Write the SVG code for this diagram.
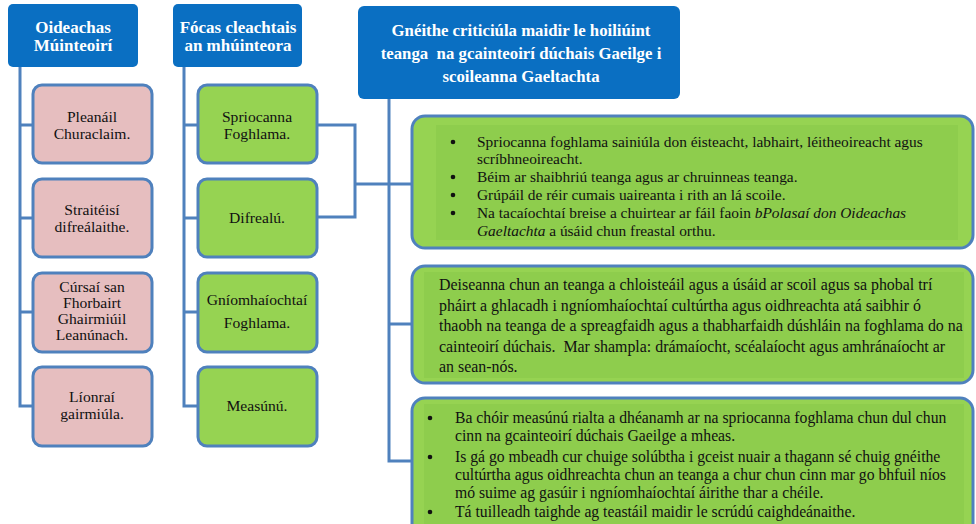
<svg xmlns="http://www.w3.org/2000/svg" width="976" height="524" viewBox="0 0 976 524">
<style>
.hdr{fill:#0A6FC2;}
.ht{font-family:'Liberation Serif','Times New Roman','DejaVu Serif',serif;font-weight:bold;fill:#fff;text-anchor:middle;}
.pink{fill:#E6BEBF;stroke:#4F81BD;stroke-width:3;}
.grn{fill:#96D352;stroke:#4F81BD;stroke-width:3;}
.big{fill:#96D352;stroke:#4F81BD;stroke-width:3;}
.inner{fill:#8ECD4D;}
.bt{font-family:'Liberation Serif','Times New Roman','DejaVu Serif',serif;font-size:15.6px;fill:#111;text-anchor:middle;}
.rt{font-family:'Liberation Serif','Times New Roman','DejaVu Serif',serif;fill:#111;}
.con{fill:none;stroke:#4F81BD;stroke-width:3;}
</style>
<rect width="976" height="524" fill="#fff"/>
<g id="connectors">
<path class="con" d="M20 67 V406 H33 M20 125 H33 M20 218 H33 M20 312 H33"/>
<path class="con" d="M184 67 V406 H197 M184 125 H197 M184 218 H197 M184 312 H197"/>
<path class="con" d="M317 125 H355 V217 H317 M355 184 H412"/>
<path class="con" d="M389 99 V461 H412 M389 324 H412"/>
</g>
<g id="hdr1">
<rect class="hdr" x="8" y="4" width="130" height="63" rx="5"/>
<text class="ht" x="73" y="33" font-size="17">Oideachas</text>
<text class="ht" x="73" y="51" font-size="17">Múinteoirí</text>
</g>
<g id="hdr2">
<rect class="hdr" x="173" y="4" width="129" height="63" rx="5"/>
<text class="ht" x="238" y="33" font-size="17">Fócas cleachtais</text>
<text class="ht" x="238" y="51" font-size="17">an mhúinteora</text>
</g>
<g id="hdr3">
<rect class="hdr" x="358" y="6" width="322" height="93" rx="6"/>
<text class="ht" x="521" y="36" font-size="16.8">Gnéithe criticiúla maidir le hoiliúint</text>
<text class="ht" x="521" y="59" font-size="16.8" xml:space="preserve">teanga  na gcainteoirí dúchais Gaeilge i</text>
<text class="ht" x="521" y="82" font-size="16.8">scoileanna Gaeltachta</text>
</g>
<g id="p1">
<rect class="pink" x="33" y="85" width="119" height="78" rx="9"/>
<text class="bt" x="92" y="122">Pleanáil</text>
<text class="bt" x="92" y="139">Churaclaim.</text>
</g>
<g id="p2">
<rect class="pink" x="33" y="179" width="119" height="78" rx="9"/>
<text class="bt" x="92" y="215">Straitéisí</text>
<text class="bt" x="92" y="232">difreálaithe.</text>
</g>
<g id="p3">
<rect class="pink" x="33" y="273" width="119" height="79" rx="9"/>
<text class="bt" x="92" y="292">Cúrsaí san</text>
<text class="bt" x="92" y="308">Fhorbairt</text>
<text class="bt" x="92" y="324">Ghairmiúil</text>
<text class="bt" x="92" y="340">Leanúnach.</text>
</g>
<g id="p4">
<rect class="pink" x="33" y="367" width="119" height="79" rx="9"/>
<text class="bt" x="92" y="402">Líonraí</text>
<text class="bt" x="92" y="419">gairmiúla.</text>
</g>
<g id="g1">
<rect class="grn" x="198" y="85" width="119" height="78" rx="9"/>
<text class="bt" x="257" y="122">Spriocanna</text>
<text class="bt" x="257" y="139">Foghlama.</text>
</g>
<g id="g2">
<rect class="grn" x="198" y="179" width="119" height="78" rx="9"/>
<text class="bt" x="257" y="223">Difrealú.</text>
</g>
<g id="g3">
<rect class="grn" x="198" y="273" width="119" height="79" rx="9"/>
<text class="bt" x="257" y="305">Gníomhaíochtaí</text>
<text class="bt" x="257" y="328">Foghlama.</text>
</g>
<g id="g4">
<rect class="grn" x="198" y="367" width="119" height="79" rx="9"/>
<text class="bt" x="257" y="411">Measúnú.</text>
</g>
<g id="r1">
<rect class="big" x="412" y="116" width="561" height="132" rx="13"/>
<rect class="inner" x="436" y="125" width="522" height="115"/>
<g class="rt" font-size="15.4">
<circle cx="453" cy="142" r="2.3" fill="#111"/>
<circle cx="453" cy="177" r="2.3" fill="#111"/>
<circle cx="453" cy="195" r="2.3" fill="#111"/>
<circle cx="453" cy="213" r="2.3" fill="#111"/>
<text x="477" y="147">Spriocanna foghlama sainiúla don éisteacht, labhairt, léitheoireacht agus</text>
<text x="477" y="164">scríbhneoireacht.</text>
<text x="477" y="182">Béim ar shaibhriú teanga agus ar chruinneas teanga.</text>
<text x="477" y="200">Grúpáil de réir cumais uaireanta i rith an lá scoile.</text>
<text x="477" y="218">Na tacaíochtaí breise a chuirtear ar fáil faoin <tspan font-style="italic">bPolasaí don Oideachas</tspan></text>
<text x="477" y="236"><tspan font-style="italic">Gaeltachta</tspan> a úsáid chun freastal orthu.</text>
</g>
</g>
<g id="r2">
<rect class="big" x="412" y="266" width="561" height="117" rx="13"/>
<rect class="inner" x="424" y="272" width="540" height="106"/>
<g class="rt" font-size="15.9">
<text x="439" y="290">Deiseanna chun an teanga a chloisteáil agus a úsáid ar scoil agus sa phobal trí</text>
<text x="439" y="311">pháirt a ghlacadh i ngníomhaíochtaí cultúrtha agus oidhreachta atá saibhir ó</text>
<text x="439" y="331">thaobh na teanga de a spreagfaidh agus a thabharfaidh dúshláin na foghlama do na</text>
<text x="439" y="352" xml:space="preserve">cainteoirí dúchais.  Mar shampla: drámaíocht, scéalaíocht agus amhránaíocht ar</text>
<text x="439" y="372">an sean-nós.</text>
</g>
</g>
<g id="r3">
<rect class="big" x="412" y="398" width="561" height="140" rx="13"/>
<rect class="inner" x="424" y="404" width="540" height="120"/>
<g class="rt" font-size="15.7">
<circle cx="430" cy="418" r="2.3" fill="#111"/>
<circle cx="430" cy="457" r="2.3" fill="#111"/>
<circle cx="430" cy="512" r="2.3" fill="#111"/>
<text x="455" y="423">Ba chóir measúnú rialta a dhéanamh ar na spriocanna foghlama chun dul chun</text>
<text x="455" y="441">cinn na gcainteoirí dúchais Gaeilge a mheas.</text>
<text x="455" y="462">Is gá go mbeadh cur chuige solúbtha i gceist nuair a thagann sé chuig gnéithe</text>
<text x="455" y="480">cultúrtha agus oidhreachta chun an teanga a chur chun cinn mar go bhfuil níos</text>
<text x="455" y="498">mó suime ag gasúir i ngníomhaíochtaí áirithe thar a chéile.</text>
<text x="455" y="517">Tá tuilleadh taighde ag teastáil maidir le scrúdú caighdeánaithe.</text>
</g>
</g>
</svg>
